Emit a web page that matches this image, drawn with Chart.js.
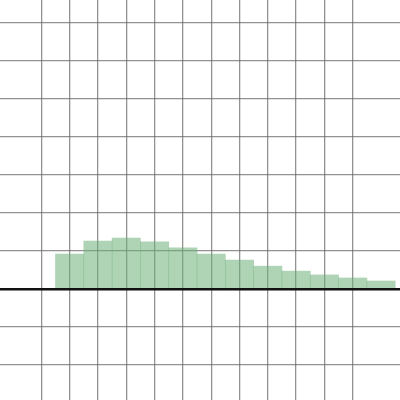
<!DOCTYPE html>
<html>
<head>
<script src="https://cdn.jsdelivr.net/npm/chart.js@4"></script>
<style>html,body{margin:0;padding:0;background:#fff}#wrap{width:400px;height:400px}</style>
</head>
<body>
<div id="wrap"><canvas id="c"></canvas></div>
<script>
// posiciones (centro de cada barra) y alturas
const xs = [2, 3, 4, 5, 6, 7, 8, 9, 10, 11, 12, 13];
const heights = [0.92, 1.26, 1.34, 1.24, 1.08, 0.92, 0.76, 0.6, 0.47, 0.37, 0.29, 0.21];

function gridOpts() {
    return {
        offset: false,
        color: ctx => ctx.tick && ctx.tick.value === 0 ? '#111' : 'rgba(100,100,100,0.7)',
        lineWidth: ctx => ctx.tick && ctx.tick.value === 0 ? 2.5 : 1.3,
        drawTicks: false
    };
}
const onlyInts = axis => { axis.ticks = axis.ticks.filter(t => Number.isInteger(t.value)); };

new Chart(document.getElementById('c'), {
    type: 'bar',
    data: {
        datasets: [{
            data: xs.map((x, i) => ({ x: x, y: heights[i] })),
            backgroundColor: 'rgba(110,175,120,0.55)',
            borderWidth: 0,
            barPercentage: 1,
            categoryPercentage: 1
        }]
    },
    options: {
        responsive: true,
        maintainAspectRatio: false,
        animation: false,
        layout: { padding: 0 },
        plugins: { legend: { display: false }, tooltip: { enabled: false } },
        scales: {
            x: {
                type: 'linear', min: -0.46, max: 13.67, offset: false,
                ticks: { display: false, stepSize: 1 },
                afterBuildTicks: onlyInts,
                grid: gridOpts(), border: { display: false }
            },
            y: {
                type: 'linear', min: -2.92, max: 7.6,
                ticks: { display: false, stepSize: 1 },
                afterBuildTicks: onlyInts,
                grid: gridOpts(), border: { display: false }
            }
        }
    }
});
</script>
</body>
</html>
